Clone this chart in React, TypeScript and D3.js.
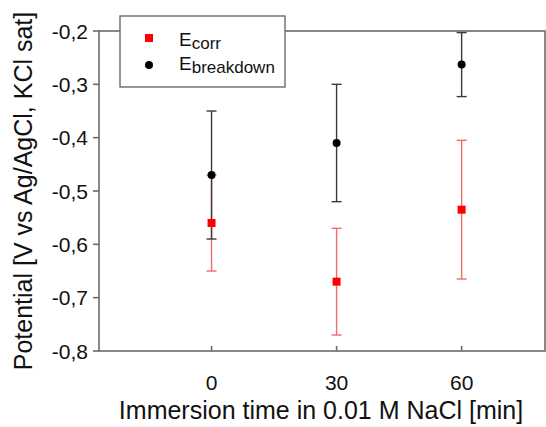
import React, { useRef, useEffect } from "react";
import * as d3 from "d3";

// immersion times (min)
const times = [0, 30, 60];
// E_corr values and error bar ends (V)
const corrMean = [-0.56, -0.67, -0.535];
const corrLow = [-0.65, -0.77, -0.665];
const corrHigh = [-0.47, -0.57, -0.405];
// E_breakdown values and error bar ends (V)
const bdMean = [-0.47, -0.41, -0.263];
const bdLow = [-0.59, -0.52, -0.323];
const bdHigh = [-0.35, -0.3, -0.203];

const yTicks = [-0.8, -0.7, -0.6, -0.5, -0.4, -0.3, -0.2];
const xTicks = [0, 30, 60];

const W = 546;
const H = 427;
const margin = { left: 99, right: 1, top: 31, bottom: 76 };
const font = "Arial, 'Liberation Sans', sans-serif";

const App = () => {
  const svgRef = useRef<SVGSVGElement>(null);

  useEffect(() => {
    const svg = d3.select(svgRef.current);
    svg.selectAll("*").remove();

    const x = d3.scaleLinear().domain([-27, 80]).range([margin.left, W - margin.right]);
    const y = d3.scaleLinear().domain([-0.8, -0.2]).range([H - margin.bottom, margin.top]);
    const fmt = (v: number) => d3.format(".1f")(v).replace(".", ",").replace("−", "-");

    // frame
    const axisColor = "#6b6b6b";
    const [x0, x1] = x.range();
    const [yb, yt] = y.range();
    svg.append("rect")
      .attr("x", x0).attr("y", yt)
      .attr("width", x1 - x0).attr("height", yb - yt)
      .attr("fill", "none").attr("stroke", axisColor).attr("stroke-width", 1.6);

    // y axis
    const gy = svg.append("g").attr("transform", `translate(${x0},0)`);
    gy.selectAll("line").data(yTicks).join("line")
      .attr("x1", -6).attr("x2", 0)
      .attr("y1", (d) => y(d)).attr("y2", (d) => y(d))
      .attr("stroke", axisColor).attr("stroke-width", 1.6);
    gy.selectAll("text").data(yTicks).join("text")
      .attr("x", -11).attr("y", (d) => y(d))
      .attr("dy", "0.36em")
      .attr("text-anchor", "end")
      .attr("font-family", font).attr("font-size", 21).attr("fill", "#111")
      .text((d) => fmt(d));

    // x axis (ticks inside)
    const gx = svg.append("g").attr("transform", `translate(0,${yb})`);
    gx.selectAll("line").data(xTicks).join("line")
      .attr("x1", (d) => x(d)).attr("x2", (d) => x(d))
      .attr("y1", 0).attr("y2", -5)
      .attr("stroke", axisColor).attr("stroke-width", 1.6);
    gx.selectAll("text").data(xTicks).join("text")
      .attr("x", (d) => x(d)).attr("y", 39)
      .attr("text-anchor", "middle")
      .attr("font-family", font).attr("font-size", 21).attr("fill", "#111")
      .text((d) => d);

    // axis titles
    svg.append("text")
      .attr("x", 321).attr("y", 419)
      .attr("text-anchor", "middle")
      .attr("font-family", font).attr("font-size", 25).attr("fill", "#111")
      .text("Immersion time in 0.01 M NaCl [min]");
    svg.append("text")
      .attr("transform", `translate(32,${(yt + yb) / 2}) rotate(-90)`)
      .attr("text-anchor", "middle")
      .attr("font-family", font).attr("font-size", 25).attr("fill", "#111")
      .text("Potential [V vs Ag/AgCl, KCl sat]");

    // error bars
    const errBars = (low: number[], high: number[], color: string) => {
      const g = svg.append("g").attr("stroke", color).attr("stroke-width", 1.4);
      times.forEach((t, i) => {
        const cx = x(t);
        g.append("line").attr("x1", cx).attr("x2", cx).attr("y1", y(low[i])).attr("y2", y(high[i]));
        g.append("line").attr("x1", cx - 5).attr("x2", cx + 5).attr("y1", y(low[i])).attr("y2", y(low[i]));
        g.append("line").attr("x1", cx - 5).attr("x2", cx + 5).attr("y1", y(high[i])).attr("y2", y(high[i]));
      });
    };
    errBars(corrLow, corrHigh, "#f26a6a");
    errBars(bdLow, bdHigh, "#3a3a3a");

    // markers
    svg.selectAll(".corr").data(times).join("rect")
      .attr("class", "corr")
      .attr("x", (d) => x(d) - 4).attr("y", (d, i) => y(corrMean[i]) - 4)
      .attr("width", 8).attr("height", 8)
      .attr("fill", "#ff0000");
    svg.selectAll(".bd").data(times).join("circle")
      .attr("class", "bd")
      .attr("cx", (d) => x(d)).attr("cy", (d, i) => y(bdMean[i]))
      .attr("r", 4)
      .attr("fill", "#000");

    // legend
    const lg = svg.append("g");
    lg.append("rect")
      .attr("x", 120).attr("y", 16).attr("width", 165).attr("height", 71)
      .attr("fill", "#fff").attr("stroke", axisColor).attr("stroke-width", 1.4);
    lg.append("rect").attr("x", 145).attr("y", 34).attr("width", 8).attr("height", 8).attr("fill", "#ff0000");
    lg.append("circle").attr("cx", 149).attr("cy", 65).attr("r", 4).attr("fill", "#000");
    const entry = (yy: number, sub: string) => {
      const t = lg.append("text")
        .attr("x", 179).attr("y", yy)
        .attr("font-family", font).attr("font-size", 19).attr("fill", "#111");
      t.append("tspan").text("E");
      t.append("tspan").attr("dy", 3).attr("font-size", 17).text(sub);
    };
    entry(45.5, "corr");
    entry(70, "breakdown");
  }, []);

  return (
    <svg
      ref={svgRef}
      width={W}
      height={H}
      style={{ position: "absolute", left: 0, top: 0, background: "#fff" }}
    ></svg>
  );
};

export default App;
